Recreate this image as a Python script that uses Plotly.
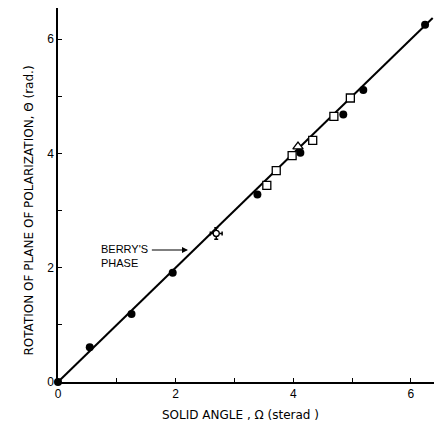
import plotly.graph_objects as go

# Data
circ_x = [0.0, 0.54, 1.25, 1.95, 3.39, 4.12, 4.85, 5.19, 6.24]
circ_y = [0.0, 0.61, 1.19, 1.91, 3.28, 4.01, 4.68, 5.11, 6.25]
sq_x = [3.55, 3.71, 3.98, 4.33, 4.69, 4.97]
sq_y = [3.44, 3.70, 3.96, 4.23, 4.65, 4.97]
tri_x = [4.08]
tri_y = [4.12]
berry_x = [2.69]
berry_y = [2.60]
berry_err = [0.1]
line_x = [0.0, 6.37]
line_y = [0.0, 6.37]
tick_vals = [0, 1, 2, 3, 4, 5, 6]
tick_text = ["0", "", "2", "", "4", "", "6"]
x_title = "SOLID ANGLE , Ω (sterad )"
y_title = "ROTATION OF PLANE OF POLARIZATION, Θ (rad.)"

fig = go.Figure()
fig.add_trace(go.Scatter(x=line_x, y=line_y, mode="lines",
                         line=dict(color="black", width=2), cliponaxis=False))
fig.add_trace(go.Scatter(x=circ_x, y=circ_y, mode="markers", cliponaxis=False,
                         marker=dict(symbol="circle", size=8, color="black")))
fig.add_trace(go.Scatter(x=sq_x, y=sq_y, mode="markers", cliponaxis=False,
                         marker=dict(symbol="square", size=8, color="white",
                                     line=dict(color="black", width=1.3))))
fig.add_trace(go.Scatter(x=tri_x, y=tri_y, mode="markers", cliponaxis=False,
                         marker=dict(symbol="triangle-up", size=9, color="white",
                                     line=dict(color="black", width=1.3))))
fig.add_trace(go.Scatter(x=berry_x, y=berry_y, mode="markers", cliponaxis=False,
                         error_x=dict(type="data", array=berry_err, color="black", thickness=1.5, width=2),
                         error_y=dict(type="data", array=berry_err, color="black", thickness=1.5, width=2),
                         marker=dict(symbol="circle", size=6, color="white",
                                     line=dict(color="black", width=1.3))))

fig.add_annotation(x=2.21, y=2.31, ax=1.57, ay=2.31, xref="x", yref="y",
                   axref="x", ayref="y", text="", showarrow=True,
                   arrowhead=2, arrowsize=1, arrowwidth=1.2, arrowcolor="black")
fig.add_annotation(x=0.70, y=2.2, xref="x", yref="y", text="BERRY'S<br>PHASE",
                   showarrow=False, xanchor="left", align="left",
                   font=dict(size=11, color="black"))
fig.add_annotation(x=3.1, y=0, xref="x", yref="paper", yshift=-33,
                   text=x_title, showarrow=False, xanchor="center", yanchor="middle",
                   font=dict(family="DejaVu Sans", size=12, color="black"))
fig.add_annotation(x=0, y=3.0, xref="paper", yref="y", xshift=-29,
                   text=y_title, showarrow=False, textangle=-90,
                   xanchor="center", yanchor="middle",
                   font=dict(family="DejaVu Sans", size=12, color="black"))

# the page body adds an 8px offset, so the figure is 8px smaller and shifted margins
fig.update_layout(
    width=434, height=413,
    margin=dict(l=50, r=4, t=0, b=39, autoexpand=False),
    paper_bgcolor="white", plot_bgcolor="white",
    showlegend=False,
    font=dict(family="Liberation Sans, Arial, sans-serif", size=12, color="black"),
)
fig.update_xaxes(range=[0, 6.46], tickvals=tick_vals, ticktext=tick_text,
                 ticks="inside", ticklen=4, tickwidth=1, tickcolor="black",
                 showline=True, linecolor="black", linewidth=1.5,
                 showgrid=False, zeroline=False, automargin=False)
fig.update_yaxes(range=[0, 6.545], tickvals=tick_vals, ticktext=tick_text,
                 ticks="inside", ticklen=4, tickwidth=1, tickcolor="black",
                 showline=True, linecolor="black", linewidth=1.5,
                 showgrid=False, zeroline=False, automargin=False)

fig.write_html("out.html")
